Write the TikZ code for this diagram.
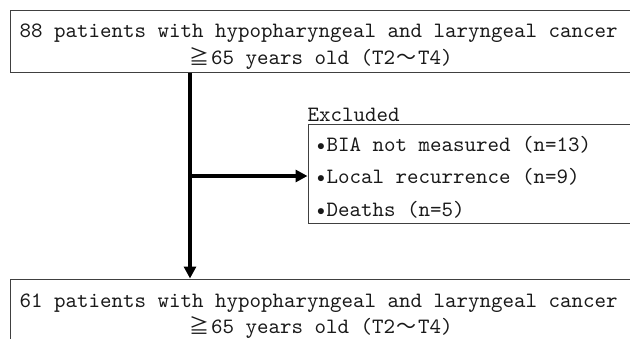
\documentclass[tikz,border=0pt]{standalone}
\usepackage{fontspec}
\usepackage{graphicx}
\newfontfamily\mono{lmmono10-regular.otf}
\newfontfamily\cjk{Noto Sans CJK JP}
\usetikzlibrary{arrows.meta}
\newcommand\fwc[1]{\makebox[23pt]{{\cjk\fontsize{20pt}{23pt}\selectfont #1}}}
\newcommand\bul{\makebox[11.5pt]{\raisebox{1pt}{\scalebox{0.75}{$\bullet$}}}}
\tikzset{
  boxnode/.style={draw=black!75, line width=1pt, rectangle, inner sep=0pt},
  txt/.style={anchor=base west, inner sep=0pt, font=\mono\fontsize{21.9pt}{24pt}\selectfont, text=black!90},
  arr/.style={line width=3.5pt, -{Triangle[length=12pt,width=12pt]}}
}
\begin{document}
\begin{tikzpicture}[x=1pt,y=-1pt]
\useasboundingbox (0,0) rectangle (630,338);
% boxes
\node[boxnode, minimum width=622pt, minimum height=62pt] (top) at (321,41) {};
\node[boxnode, minimum width=325pt, minimum height=99pt] (excl) at (470.5,173.5) {};
\node[boxnode, minimum width=622pt, minimum height=62pt] (bot) at (321,310) {};
% texts
\node[txt] (t1) at (19.5,37) {88 patients with hypopharyngeal and laryngeal cancer};
\node[txt] (t2) at (188,64) {\fwc{≧}65 years old (T2\fwc{～}T4)};
\node[txt] (ex) at (307.5,121) {Excluded};
\node[txt] (e1) at (315,151) {\bul BIA not measured (n=13)};
\node[txt] (e2) at (315,183) {\bul Local recurrence (n=9)};
\node[txt] (e3) at (315,216) {\bul Deaths (n=5)};
\node[txt] (b1) at (19.5,307) {61 patients with hypopharyngeal and laryngeal cancer};
\node[txt] (b2) at (188,333) {\fwc{≧}65 years old (T2\fwc{～}T4)};
% connectors
\coordinate (j) at (190,176);
\draw[arr] (top.south -| j) -- (bot.north -| j);
\draw[arr] (j) -- (excl.west |- j);
\end{tikzpicture}
\end{document}
